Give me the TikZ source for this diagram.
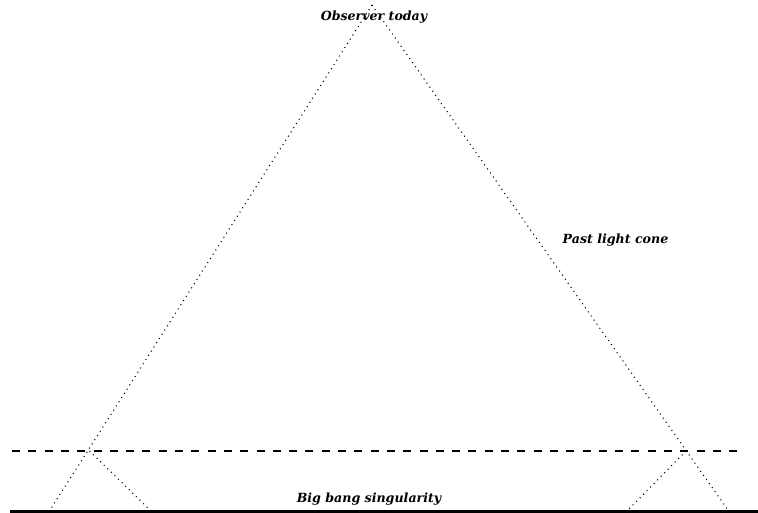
\documentclass[tikz,border=0pt]{standalone}
\usepackage{fontspec}
\setmainfont{DejaVu Serif}
\begin{document}
\begin{tikzpicture}[x=1pt,y=-1pt,
  cone/.style={line width=1.1pt,dash pattern=on 1pt off 4pt},
  lbl/.style={font=\fontsize{12.6}{14}\selectfont\bfseries\itshape,inner sep=0pt}]
\useasboundingbox (0,0) rectangle (758,513);
\coordinate (apex) at (372,5);
\coordinate (bl) at (50,510);
\coordinate (br) at (728,510);
\coordinate (cl) at (89.5,451);
\coordinate (cr) at (686,451);
\coordinate (sl) at (150,510);
\coordinate (sr) at (628,510);
\coordinate (dl) at (12,451);
\coordinate (dr) at (740,451);
\coordinate (gl) at (10,511.5);
\coordinate (gr) at (758,511.5);
\draw[cone] (apex) -- (bl);
\draw[cone] (apex) -- (br);
\draw[cone] (cl) -- (sl);
\draw[cone] (cr) -- (sr);
\draw[line width=1.8pt,dash pattern=on 8pt off 8.3pt] (dl) -- (dr);
\draw[line width=3pt] (gl) -- (gr);
\node[lbl] (obs) at (374,17) {Observer today};
\node[lbl] (plc) at (615.5,240) {Past light cone};
\node[lbl] (bb) at (369,499) {Big bang singularity};
\end{tikzpicture}
\end{document}
